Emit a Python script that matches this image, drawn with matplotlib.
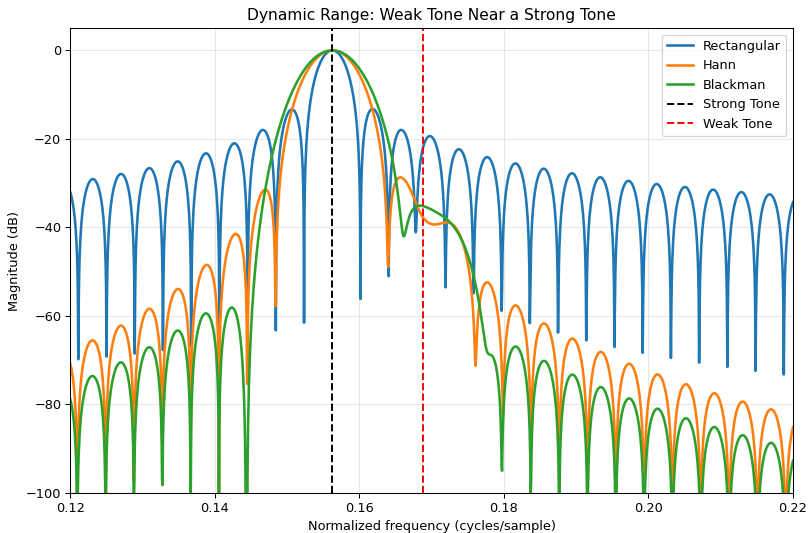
import numpy as np
import matplotlib
matplotlib.use("Agg")
import matplotlib.pyplot as plt

# signal parameters
N = 256
NFFT = 256 * 64
f_strong = 0.15625
f_weak = 0.16875
a_strong = 1.0
a_weak_db = -35.0

windows = ["Rectangular", "Hann", "Blackman"]
colors = ["#1f77b4", "#ff7f0e", "#2ca02c"]

n = np.arange(N)
x = a_strong * np.cos(2 * np.pi * f_strong * n) + 10 ** (a_weak_db / 20) * np.cos(2 * np.pi * f_weak * n)

win_funcs = {
    "Rectangular": np.ones(N),
    "Hann": np.hanning(N),
    "Blackman": np.blackman(N),
}

freqs = np.fft.rfftfreq(NFFT)

DPI = 93
fig, ax = plt.subplots(figsize=(809 / DPI, 533 / DPI), dpi=DPI)
fig.subplots_adjust(left=0.087, right=0.98, top=0.947, bottom=0.075)

for name, c in zip(windows, colors):
    X = np.abs(np.fft.rfft(x * win_funcs[name], NFFT))
    mag_db = 20 * np.log10(X / X.max() + 1e-12)
    ax.plot(freqs, mag_db, color=c, lw=2, label=name)

ax.axvline(f_strong, color="k", ls="--", lw=1.5, label="Strong Tone")
ax.axvline(f_weak, color="r", ls="--", lw=1.5, label="Weak Tone")

ax.set_xlim(0.12, 0.22)
ax.set_ylim(-100, 5)
ax.set_xlabel("Normalized frequency (cycles/sample)")
ax.set_ylabel("Magnitude (dB)")
ax.set_title("Dynamic Range: Weak Tone Near a Strong Tone")
ax.grid(alpha=0.3)
ax.legend(loc="upper right")

fig.savefig("out.png", dpi=DPI)
